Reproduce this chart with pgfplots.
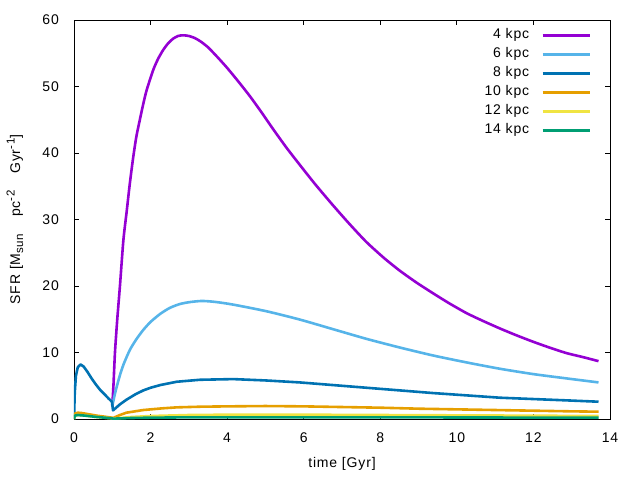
\documentclass[border=0pt]{standalone}
\usepackage{pgfplots}
\pgfplotsset{compat=1.18}
\usepackage{fontspec}
\setmainfont{Liberation Sans}[LetterSpace=6]
\definecolor{c4}{HTML}{9400D3}
\definecolor{c6}{HTML}{56B4E9}
\definecolor{c8}{HTML}{0072B2}
\definecolor{c10}{HTML}{E69F00}
\definecolor{c12}{HTML}{F0E442}
\definecolor{c14}{HTML}{009E73}
\newcommand{\lsub}[1]{\raisebox{-3pt}{\fontsize{11.5pt}{11.5pt}\selectfont #1}}
\newcommand{\lsup}[1]{\raisebox{5.5pt}{\fontsize{11.5pt}{11.5pt}\selectfont #1}}
\begin{document}
\begin{tikzpicture}[font=\fontsize{14pt}{16pt}\selectfont]
\useasboundingbox (-74pt,-61pt) rectangle (566pt,419pt);
\begin{axis}[
  at={(0pt,0pt)}, anchor=south west,
  scale only axis, width=536pt, height=399pt,
  xmin=0, xmax=14, ymin=0, ymax=60,
  xtick={0,2,...,14}, ytick={0,10,...,60},
  minor tick num=0,
  tick align=inside, major tick length=5pt,
  tick style={black, line width=0.8pt},
  axis line style={black, line width=0.9pt},
  /pgf/number format/assume math mode=true,
  yticklabel style={inner sep=0pt, anchor=east, xshift=-15pt},
  xticklabel style={inner sep=0pt, anchor=north, yshift=-14pt},
  xlabel={time [Gyr]},
  ylabel={SFR [M\lsub{sun}\hspace{12pt} pc\lsup{-2}\hspace{12pt} Gyr\lsup{-1}]},
  xlabel style={at={(axis description cs:0.5,-0.1128)}, anchor=center, inner sep=0pt},
  ylabel style={at={(axis description cs:-0.110,0.5)}, anchor=center, inner sep=0pt},
  legend plot pos=right,
  legend cell align=right,
  legend image code/.code={\draw[#1] (0pt,0pt) -- (47pt,0pt);},
  legend style={at={(axis description cs:0.9646,0.978)}, anchor=north east,
    draw=none, fill=none, inner sep=0pt, row sep=6pt, /tikz/column sep=12pt,
    nodes={inner sep=0pt, text height=10pt, text depth=3pt}},
  every axis plot/.append style={line width=2.6pt, line join=round},
]
\addplot[c4, smooth, tension=0.4] coordinates {
(1.0,2) (1.03,5) (1.07,10) (1.13,15) (1.2,20) (1.29,26.9) (1.38,31.4) (1.46,35.5) (1.55,39.5) (1.63,42.5) (1.72,45) (1.81,47.4) (1.9,49.5) (2.07,52.5) (2.2,54.2) (2.33,55.5) (2.46,56.5) (2.59,57.2) (2.72,57.6) (2.85,57.7) (3.0,57.6) (3.15,57.3) (3.3,56.8) (3.5,55.9) (3.75,54.4) (4.0,52.8) (4.3,50.7) (4.6,48.5) (4.9,46.1) (5.2,43.6) (5.55,40.8) (5.9,38.2) (6.3,35.3) (6.77,32.1) (7.2,29.3) (7.64,26.6) (8.1,24.2) (8.51,22.3) (8.95,20.5) (9.38,18.9) (9.8,17.4) (10.26,15.9) (10.7,14.7) (11.13,13.6) (11.55,12.6) (12.0,11.6) (12.44,10.7) (12.87,9.9) (13.3,9.3) (13.7,8.7)
};
\addlegendentry{4 kpc}
\addplot[c6, smooth, tension=0.4] coordinates {
(1.0,1.9) (1.05,3.3) (1.1,4.5) (1.2,6.6) (1.3,8.3) (1.46,10.4) (1.63,12.0) (1.81,13.4) (2.0,14.6) (2.25,15.8) (2.5,16.7) (2.77,17.3) (3.05,17.6) (3.35,17.75) (3.7,17.6) (4.16,17.2) (5.03,16.2) (5.9,14.95) (6.77,13.5) (7.64,12.05) (8.51,10.75) (9.38,9.55) (10.26,8.5) (11.13,7.55) (12.0,6.75) (12.87,6.1) (13.7,5.5)
};
\addlegendentry{6 kpc}
\addplot[c8] coordinates {
(0,0) (0.02,4) (0.05,6.5) (0.1,7.8) (0.17,8.2) (0.25,7.9) (0.35,7.1) (0.46,6.1) (0.57,5.2) (0.68,4.4) (0.8,3.7) (0.9,3.1) (0.99,2.6) (1.02,1.3) (1.1,1.7) (1.2,2.2) (1.37,2.9) (1.6,3.7) (1.81,4.3) (2.0,4.7) (2.25,5.1) (2.68,5.6) (3.29,5.9) (4.16,6.0) (5.0,5.8) (5.9,5.5) (6.77,5.1) (7.64,4.7) (8.51,4.3) (9.38,3.9) (10.26,3.55) (11.13,3.2) (12.0,3.0) (12.87,2.8) (13.7,2.6)
};
\addlegendentry{8 kpc}
\addplot[c10] coordinates {
(0,0) (0.02,0.8) (0.1,0.95) (0.2,0.9) (0.4,0.7) (0.6,0.5) (0.8,0.35) (0.99,0.2) (1.02,0.15) (1.2,0.6) (1.37,0.95) (1.81,1.35) (2.3,1.6) (2.68,1.75) (3.3,1.85) (4.0,1.9) (5.0,1.95) (6.0,1.9) (7.0,1.8) (8.0,1.7) (9.0,1.55) (10.0,1.45) (11.0,1.35) (12.0,1.25) (13.0,1.15) (13.7,1.1)
};
\addlegendentry{10 kpc}
\addplot[c12] coordinates {
(0,0) (0.02,0.5) (0.1,0.6) (0.3,0.5) (0.6,0.3) (0.99,0.1) (1.02,0.05) (1.5,0.3) (2,0.45) (3,0.6) (4,0.65) (6,0.65) (8,0.6) (10,0.55) (12,0.5) (13.7,0.45)
};
\addlegendentry{12 kpc}
\addplot[c14] coordinates {
(0,0) (0.02,0.5) (0.1,0.6) (0.3,0.5) (0.6,0.3) (0.99,0.1) (1.02,0.05) (1.5,0.15) (2,0.2) (3,0.25) (5,0.25) (8,0.25) (11,0.22) (13.7,0.2)
};
\addlegendentry{14 kpc}
\end{axis}
\end{tikzpicture}
\end{document}
